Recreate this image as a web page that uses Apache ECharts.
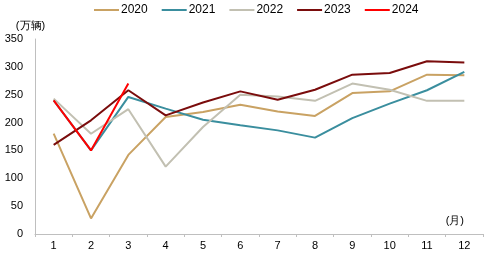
<!DOCTYPE html>
<html><head><meta charset="utf-8">
<script src="https://cdn.jsdelivr.net/npm/echarts@6/dist/echarts.min.js"></script>
<style>html,body{margin:0;padding:0;background:#fff}#c{width:484px;height:254px}</style>
</head><body><div id="c"></div>
<script>
var months = ['1','2','3','4','5','6','7','8','9','10','11','12'];
var s2020 = [180, 28, 142, 210, 219, 232, 220, 212, 253, 256, 286, 285];
var s2021 = [240, 150, 246, 225, 205, 195, 186, 173, 208, 234, 258, 291];
var s2022 = [243, 180, 224, 121, 192, 250, 247, 239, 270, 259, 239, 239];
var s2023 = [160, 204, 258, 213, 236, 256, 241, 259, 286, 289, 310, 308];
var s2024 = [240, 150, 270];
var names = ['2020','2021','2022','2023','2024'];
var colors = ['#C9A263','#3A8E9E','#C2C0B2','#7A0C0C','#FF0000'];
var data = [s2020, s2021, s2022, s2023, s2024];
var chart = echarts.init(document.getElementById('c'), null, {renderer:'canvas'});
var font = 'Liberation Sans, Arial, sans-serif';
chart.setOption({
  animation:false,
  color: colors,
  textStyle:{fontFamily:font},
  legend:{top:4, left:94, padding:0, itemWidth:25, itemHeight:2, itemGap:14,
    icon:'rect', textStyle:{fontSize:12, color:'#000', fontFamily:font, padding:[0,0,0,-3]}, data:names},
  grid:{left:35, right:1, top:39, bottom:20, containLabel:false},
  xAxis:{type:'category', data:months, boundaryGap:true,
    axisLine:{lineStyle:{color:'#BFBFBF'}},
    axisTick:{show:true, length:3, lineStyle:{color:'#BFBFBF'}},
    axisLabel:{fontSize:11, color:'#000', margin:6, fontFamily:font},
    name:'(月)', nameLocation:'end', nameGap:0,
    nameTextStyle:{fontSize:11, color:'#000', fontFamily:font, align:'right', verticalAlign:'bottom', padding:[0,19,8,0]}},
  yAxis:{type:'value', min:0, max:350, interval:50,
    axisLine:{show:true, lineStyle:{color:'#BFBFBF'}},
    axisTick:{show:false}, splitLine:{show:false},
    axisLabel:{fontSize:11, color:'#000', margin:12, fontFamily:font},
    name:'(万辆)', nameLocation:'end', nameGap:8,
    nameTextStyle:{fontSize:11, color:'#000', fontFamily:font, align:'center', padding:[0,9,0,0]}},
  series: names.map(function(n,i){return {name:n, type:'line', data:data[i], showSymbol:false, symbol:'none',
    lineStyle:{width:2, color:colors[i]}, z:2+i};})
});
</script></body></html>
